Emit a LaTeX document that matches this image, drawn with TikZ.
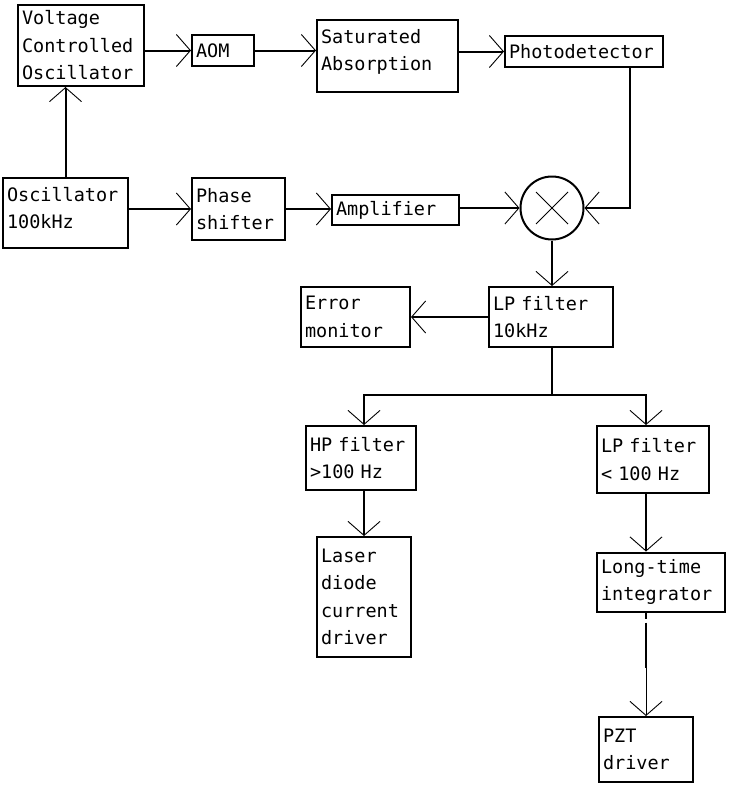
\documentclass[tikz,border=0pt]{standalone}
\usepackage{fontspec}
\newfontfamily\boxfont{DejaVu Sans Mono}
\usepackage{tikz}
\usetikzlibrary{shapes,arrows.meta,calc}
\tikzstyle{block} = [rectangle, draw, line width=2pt, align=left,
    inner xsep=4pt, inner ysep=3pt, font=\boxfont\fontsize{18.5}{27.5}\selectfont]
\tikzstyle{line} = [draw, line width=2pt,
    -{Straight Barb[length=14pt,width=32pt,line width=0.9pt]}]

\begin{document}
\begin{tikzpicture}[x=1pt,y=-1pt]
   \useasboundingbox (0,0) rectangle (747,790);
   \fill[white] (0,0) rectangle (747,790);

   \node [block, text width=118pt, minimum height=81pt] (vco) at (81,45.5)
      {Voltage\\Controlled\\Oscillator};
   \node [block, text width=54pt, minimum height=31pt] (aom) at (223,50.5) {AOM};
   \node [block, text width=133pt, minimum height=72pt, text depth=40pt] (satabs)
      at (387.5,56) {Saturated\\Absorption};
   \node [block, text width=150pt, minimum height=31pt] (detector) at (584,51.5)
      {Photodetector};
   \node [block, text width=117pt, minimum height=70pt, text depth=38pt] (osc)
      at (65.5,213) {Oscillator\\100kHz};
   \node [block, text width=85pt, minimum height=62pt] (shifter) at (238.5,209)
      {Phase\\shifter};
   \node [block, text width=119pt, minimum height=30pt] (amp) at (395.5,210)
      {Amplifier};
   \node [circle, draw, line width=2pt, minimum size=63pt, path picture={
         \draw[line width=0.9pt] (path picture bounding box.center) ++(-16pt,-16pt) -- ++(32pt,32pt);
         \draw[line width=0.9pt] (path picture bounding box.center) ++(-16pt,16pt) -- ++(32pt,-32pt);
      }] (mixer) at (552,208) {};
   \node [block, text width=116pt, minimum height=60pt] (lpfast) at (551,317)
      {LP filter\\10kHz};
   \node [block, text width=101pt, minimum height=60pt] (monitor) at (355.5,317)
      {Error\\monitor};
   \node [block, text width=102pt, minimum height=64pt] (hpf) at (361,458)
      {HP filter\\>100 Hz};
   \node [block, text width=104pt, minimum height=67pt] (lpslow) at (653,459.5)
      {LP filter\\< 100 Hz};
   \node [block, text width=86pt, minimum height=120pt] (laser) at (364,597)
      {Laser\\diode\\current\\driver};
   \node [block, text width=120pt, minimum height=59pt] (integrator) at (661,582)
      {Long-time\\integrator};
   \node [block, text width=86pt, minimum height=65pt] (pzt) at (646,749.5)
      {PZT\\driver};

   \coordinate (split) at (552,395);
   \coordinate (gap) at (646,668);

   \path [line] (osc.north) -- (osc.north |- vco.south);
   \path [line] (vco.east |- aom.west) -- (aom.west);
   \path [line] (aom.east) -- (aom.east -| satabs.west);
   \path [line] (detector.west -| satabs.east) -- (detector.west);
   \path [line] ([xshift=-34pt]detector.south east) |- (mixer.east);
   \path [line] (osc.east |- shifter.west) -- (shifter.west);
   \path [line] (shifter.east) -- (shifter.east -| amp.west);
   \path [line] (amp.east |- mixer.west) -- (mixer.west);
   \path [line] (mixer.south) -- (mixer.south |- lpfast.north);
   \path [line] (lpfast.west) -- (monitor.east);
   \draw [line width=2pt] (lpfast.south -| split) -- (split);
   \path [line] (split) -| ([xshift=3pt]hpf.north);
   \path [line] (split) -| (pzt.north |- lpslow.north);
   \path [line] (hpf.south -| laser.north) -- (laser.north);
   \path [line] (lpslow.south -| pzt.north) -- (integrator.north -| pzt.north);
   \draw [line width=2pt, dash pattern=on 6pt off 4pt on 60pt]
      (integrator.south -| gap) -- (gap);
   \path [line, line width=0.9pt] (gap) -- (pzt.north);
\end{tikzpicture}
\end{document}
